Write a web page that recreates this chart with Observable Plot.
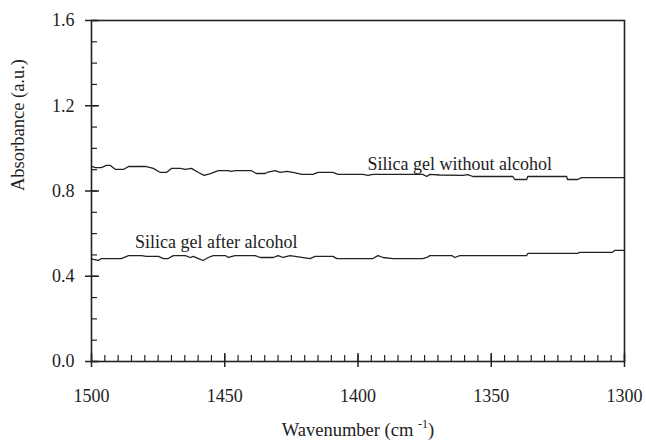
<!DOCTYPE html>
<html>
<head>
<meta charset="utf-8">
<script src="https://cdn.jsdelivr.net/npm/d3@7"></script>
<script src="https://cdn.jsdelivr.net/npm/@observablehq/plot@0.6"></script>
<style>
  html, body { margin: 0; padding: 0; background: #fff; }
  svg { display: block; }
  svg, svg text, svg tspan { font-family: "Liberation Serif", "Tinos", "Times New Roman", "DejaVu Serif", serif !important; }
</style>
</head>
<body>
<div id="chart"></div>
<script>
// Wavenumber (cm-1) and absorbance (a.u.)
const withoutWn = [1500,1498.5,1496.3,1494.4,1492.9,1491.0,1488.0,1486.1,1479.8,1476.8,1474.2,1471.9,1470.0,1466.7,1464.8,1462.5,1459.9,1457.7,1455.4,1452.4,1448.7,1447.6,1446.1,1440.1,1438.2,1434.8,1434.1,1431.1,1429.2,1426.6,1424.4,1421.0,1416.9,1415.0,1409.4,1407.5,1398.1,1396.3,1394.4,1375.7,1374.2,1373.0,1369.3,1360.7,1358.8,1356.9,1341.9,1341.2,1336.7,1336.3,1321.7,1321.4,1317.6,1316.1,1300];
const withoutAbs = [0.915,0.910,0.910,0.920,0.920,0.901,0.901,0.915,0.915,0.906,0.887,0.887,0.906,0.906,0.901,0.906,0.887,0.873,0.882,0.896,0.896,0.892,0.896,0.896,0.882,0.882,0.887,0.896,0.887,0.892,0.887,0.878,0.878,0.887,0.887,0.878,0.878,0.873,0.878,0.878,0.868,0.878,0.875,0.873,0.877,0.868,0.868,0.854,0.854,0.868,0.868,0.854,0.854,0.863,0.863];

const afterWn = [1500,1499.3,1497.4,1496.3,1491.8,1488.8,1486.1,1481.3,1479.4,1474.9,1473.0,1471.2,1469.3,1464.8,1462.9,1461.8,1459.9,1458.1,1456.2,1454.3,1449.8,1448.7,1446.1,1438.6,1436.7,1433.7,1431.8,1430.0,1428.1,1425.5,1418.0,1416.1,1409.4,1407.9,1394.4,1392.5,1390.6,1386.9,1375.7,1374.2,1373.0,1364.8,1363.7,1361.8,1336.7,1336.3,1317.6,1316.9,1304.5,1303.7,1300];
const afterAbs = [0.483,0.479,0.474,0.483,0.483,0.483,0.497,0.497,0.493,0.493,0.483,0.483,0.497,0.497,0.488,0.493,0.483,0.474,0.488,0.497,0.497,0.488,0.497,0.497,0.488,0.488,0.488,0.497,0.488,0.497,0.483,0.493,0.493,0.483,0.483,0.497,0.488,0.483,0.483,0.488,0.497,0.497,0.488,0.497,0.497,0.507,0.507,0.512,0.512,0.521,0.521];

const seriesLabels = ["Silica gel without alcohol", "Silica gel after alcohol"];
const labelWn = [1361.8, 1453.2];
const labelAbs = [0.924, 0.558];

const xMajorTicks = [1500, 1450, 1400, 1350, 1300];
const yMajorTicks = [0.0, 0.4, 0.8, 1.2, 1.6];
const xMinorTicks = d3.range(1300, 1501, 5);
const yMinorTicks = d3.range(0, 17).map(i => i / 10);

const xTitle = "Wavenumber (cm -1)";
const yTitle = "Absorbance (a.u.)";

const withoutData = withoutWn.map((w, i) => ({w, a: withoutAbs[i]}));
const afterData = afterWn.map((w, i) => ({w, a: afterAbs[i]}));
const labelData = seriesLabels.map((t, i) => ({t, w: labelWn[i], a: labelAbs[i]}));

const W = 646, H = 444;
const mL = 91, mR = 22, mT = 20, mB = 83;
const innerW = W - mL - mR, innerH = H - mT - mB;
const ink = "#222";
const serif = "Liberation Serif, Tinos, Times New Roman, DejaVu Serif, serif";
const fs = 18;

const plot = Plot.plot({
  width: W, height: H,
  marginLeft: mL, marginRight: mR, marginTop: mT, marginBottom: mB,
  style: {fontSize: fs + "px", color: ink, background: "#fff"},
  x: {domain: [1500, 1300], axis: null},
  y: {domain: [0, 1.6], axis: null},
  marks: [
    Plot.tickY(yMinorTicks, {y: d => d, stroke: ink, strokeWidth: 1.2, insetRight: innerW - 6}),
    Plot.tickX(xMinorTicks, {x: d => d, stroke: ink, strokeWidth: 1.2, insetTop: innerH - 6}),
    Plot.tickY(yMajorTicks, {y: d => d, stroke: ink, strokeWidth: 1.5, insetLeft: -6, insetRight: innerW - 8}),
    Plot.tickX(xMajorTicks, {x: d => d, stroke: ink, strokeWidth: 1.5, insetTop: innerH - 8, insetBottom: -6}),
    Plot.frame({stroke: ink, strokeWidth: 1.6}),
    Plot.axisY(yMajorTicks, {tickSize: 0, tickPadding: 17, tickFormat: d3.format(".1f"), label: null, fontSize: fs, fontFamily: serif}),
    Plot.axisX(xMajorTicks, {tickSize: 0, tickPadding: 28, tickFormat: d => String(d), label: null, fontSize: fs, fontFamily: serif}),
    Plot.text([yTitle], {frameAnchor: "left", rotate: -90, dx: -73, fontSize: 18.5, fill: ink, fontFamily: serif}),
    Plot.text([xTitle], {frameAnchor: "bottom", dy: 74, fontSize: 18.5, fill: ink, fontFamily: serif}),
    Plot.line(withoutData, {x: "w", y: "a", stroke: ink, strokeWidth: 1.3}),
    Plot.line(afterData, {x: "w", y: "a", stroke: ink, strokeWidth: 1.3}),
    Plot.text(labelData, {x: "w", y: "a", text: "t", fontSize: fs, fill: ink, textAnchor: "middle", fontFamily: serif})
  ]
});

// superscript for the x title
d3.select(plot).selectAll("text").filter(function() { return this.textContent === xTitle; })
  .each(function() {
    const t = d3.select(this);
    t.text(null);
    t.append("tspan").text("Wavenumber (cm ");
    t.append("tspan").attr("dy", "-8").attr("font-size", "12").text("-1");
    t.append("tspan").attr("dy", "8").text(")");
  });

document.getElementById("chart").appendChild(plot);
</script>
</body>
</html>
